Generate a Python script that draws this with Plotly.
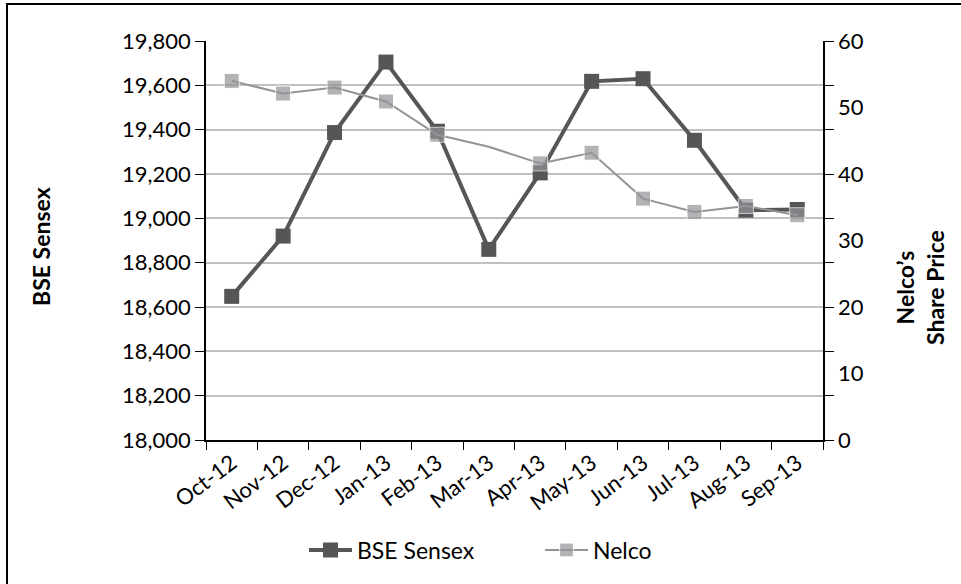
import plotly.graph_objects as go

months = ["Oct-12", "Nov-12", "Dec-12", "Jan-13", "Feb-13", "Mar-13",
          "Apr-13", "May-13", "Jun-13", "Jul-13", "Aug-13", "Sep-13"]
bse_sensex = [18648, 18920, 19387, 19705, 19393, 18860,
              19205, 19618, 19630, 19352, 19037, 19040]
nelco = [54.0, 52.1, 53.0, 50.9, 45.9, 44.1,
         41.6, 43.2, 36.3, 34.3, 35.2, 33.8]
nelco_marker_shown = [1, 1, 1, 1, 1, 0, 1, 1, 1, 1, 1, 1]

left_ticks = [18000, 18200, 18400, 18600, 18800, 19000, 19200, 19400, 19600, 19800]
right_ticks = [0, 10, 20, 30, 40, 50, 60]

FONT = "Lato, 'Open Sans', sans-serif"
L, R, T, B = 206, 138, 41, 144
W, H = 961, 584
pw = W - L - R
ph = H - T - B


def px_x(x):
    return (x - L) / pw


def px_y(y):
    return (H - B - y) / ph


fig = go.Figure()
fig.add_trace(go.Scatter(
    x=months, y=bse_sensex, name="BSE Sensex", mode="lines+markers",
    line=dict(color="#555658", width=4),
    marker=dict(symbol="square", size=15, color="#555658"),
    yaxis="y",
))
fig.add_trace(go.Scatter(
    x=months, y=nelco, name="Nelco", mode="lines+markers",
    line=dict(color="#939497", width=2),
    marker=dict(symbol="square", size=[15 * s for s in nelco_marker_shown], color="#939497"),
    yaxis="y2",
))

fig.update_layout(
    width=W, height=H,
    margin=dict(l=L, r=R, t=T, b=B),
    paper_bgcolor="white", plot_bgcolor="white",
    font=dict(family=FONT, size=22, color="black"),
    showlegend=True,
    legend=dict(orientation="h", x=px_x(304), y=px_y(550), xanchor="left", yanchor="middle",
                font=dict(size=23), entrywidth=178, itemwidth=43, tracegroupgap=0),
    xaxis=dict(
        type="category", range=[-0.5, 11.5], tickangle=-37,
        tickson="boundaries", ticks="outside", ticklen=8, tickcolor="black",
        showline=True, linecolor="black", linewidth=1.5,
        showgrid=False, tickfont=dict(size=22),
    ),
    yaxis=dict(
        range=[18000, 19800], tickvals=left_ticks,
        tickformat=",d", ticks="outside", ticklen=9, tickcolor="black",
        showline=True, linecolor="black", linewidth=1.5, mirror="ticks",
        showgrid=True, gridcolor="#c0c0c0", gridwidth=1.5,
        tickfont=dict(size=22), zeroline=False,
    ),
    yaxis2=dict(
        range=[0, 60], tickvals=right_ticks, overlaying="y", side="right",
        ticks="", showline=False, showgrid=False, zeroline=False,
        tickfont=dict(size=22), ticklabelstandoff=14,
    ),
    annotations=[
        dict(text="<b>BSE Sensex</b>", xref="paper", yref="paper",
             x=px_x(41), y=px_y(247), textangle=-90,
             showarrow=False, font=dict(size=23), xanchor="center", yanchor="middle"),
        dict(text="<b>Nelco’s<br>Share Price</b>", xref="paper", yref="paper",
             x=px_x(920), y=px_y(288), textangle=-90,
             showarrow=False, font=dict(size=23), xanchor="center", yanchor="middle"),
    ],
    shapes=[
        dict(type="rect", xref="paper", yref="paper",
             x0=px_x(7), x1=px_x(W + 5),
             y0=px_y(H + 5), y1=px_y(4),
             line=dict(color="black", width=2), fillcolor="rgba(0,0,0,0)", layer="below"),
    ],
)

fig.write_html("out.html", config={"displayModeBar": False},
               post_script="document.body.style.margin='0';")
